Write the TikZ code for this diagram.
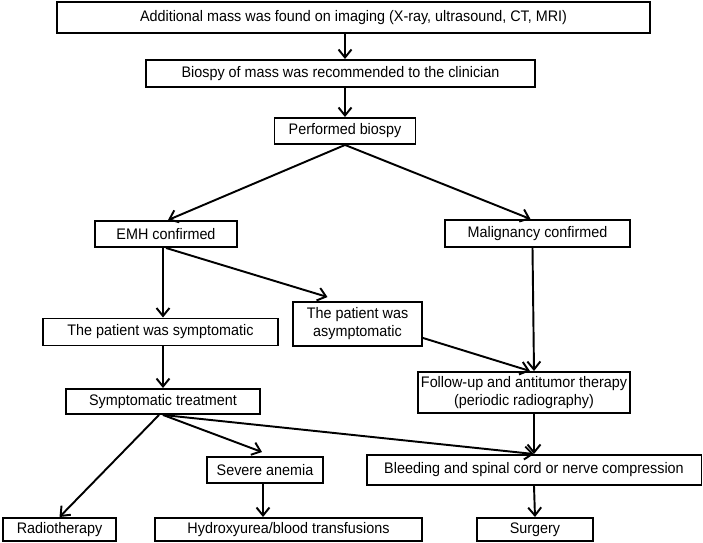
\documentclass[tikz,border=0pt]{standalone}
\usepackage{fontspec}
\setmainfont[FakeStretch=0.94]{Liberation Sans}
\usetikzlibrary{positioning, arrows.meta, calc}

\begin{document}
\begin{tikzpicture}[
  x={(0.02cm,0)}, y={(0,-0.02cm)},
  every node/.style={font=\fontsize{8.7}{10.2}\selectfont},
  cbox/.style={draw, line width=1.1pt, fill=white, inner sep=1pt,
               align=center, minimum height=0.52cm},
  flow/.style={line width=1.1pt, -{Straight Barb[length=1.6mm, width=2.6mm, line width=1.1pt]}},
]
  % Frame
  \useasboundingbox (0,0) rectangle (703,543);

  % Upper chain
  \node[cbox, minimum width=11.86cm, minimum height=0.62cm] (imaging) at (353.5,17.5)
    {Additional mass was found on imaging (X-ray, ultrasound, CT, MRI)};
  \node[cbox, minimum width=7.78cm, minimum height=0.54cm] (recom) at (340.5,73.5)
    {Biospy of mass was recommended to the clinician};
  \node[cbox, minimum width=2.82cm] (biopsy) at (345,131) {Performed biospy};

  % Diagnosis
  \node[cbox, minimum width=2.84cm] (emh) at (166,234) {EMH confirmed};
  \node[cbox, minimum width=3.70cm, minimum height=0.54cm] (malig) at (537.5,233.5) {Malignancy confirmed};

  % EMH branch
  \node[cbox, minimum width=4.70cm, minimum height=0.54cm] (sympt) at (160.5,332) {The patient was symptomatic};
  \node[cbox, minimum width=2.58cm, minimum height=0.88cm] (asympt) at (357.5,324) {The patient was\\asymptomatic};
  \node[cbox, minimum width=4.24cm, minimum height=0.82cm] (follow) at (524,392.5)
    {Follow-up and antitumor therapy\\(periodic radiography)};
  \node[cbox, minimum width=3.88cm, minimum height=0.50cm] (treat) at (163,401.5) {Symptomatic treatment};

  % Lower row
  \node[cbox, minimum width=2.32cm] (anemia) at (265,470) {Severe anemia};
  \node[cbox, minimum width=6.70cm, minimum height=0.60cm] (bleed) at (534,470) {Bleeding and spinal cord or nerve compression};
  \node[cbox, minimum width=2.26cm, minimum height=0.46cm] (radio) at (59.5,529.5) {Radiotherapy};
  \node[cbox, minimum width=5.34cm, minimum height=0.46cm] (hydroxy) at (288.5,529.5) {Hydroxyurea/blood transfusions};
  \node[cbox, minimum width=2.32cm, minimum height=0.46cm] (surgery) at (535,529.5) {Surgery};

  % Arrows
  \draw[flow] (imaging.south -| biopsy) -- (recom.north -| biopsy);
  \draw[flow] (recom.south -| biopsy) -- (biopsy.north);
  \draw[flow] (biopsy.south) -- ($(emh.north)+(2,0)$);
  \draw[flow] (biopsy.south) -- ($(malig.north)+(-7,0)$);
  \draw[flow] ($(emh.south)+(-3,0)$) -- (sympt.north -| 163,0);
  \draw[flow] (emh.south) -- ($(asympt.north)+(-30,-4)$);
  \draw[flow] ($(malig.south)+(-5,0)$) -- ($(follow.north)+(10,0)$);
  \draw[flow] ($(asympt.south east)+(0,-9)$) -- ($(follow.north)+(6,0)$);
  \draw[flow] (sympt.south -| treat) -- (treat.north);
  \draw[flow] ($(treat.south)+(-4,0)$) -- (radio.north);
  \draw[flow] (treat.south) -- ($(anemia.north)+(-3,-4)$);
  \draw[flow] (treat.south) -- (bleed.north);
  \draw[flow] (follow.south -| bleed) -- (bleed.north);
  \draw[flow] ($(anemia.south)+(-2,0)$) -- (hydroxy.north -| 263,0);
  \draw[flow] (bleed.south) -- (surgery.north);
\end{tikzpicture}
\end{document}
